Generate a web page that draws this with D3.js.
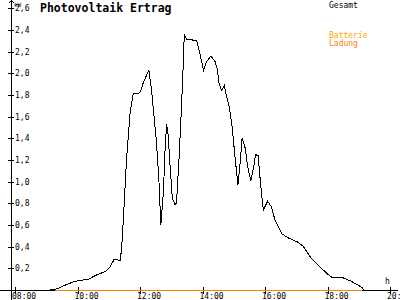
<!DOCTYPE html>
<html>
<head>
<meta charset="utf-8">
<script src="https://cdn.jsdelivr.net/npm/d3@7"></script>
<style>
  html, body { margin: 0; padding: 0; background: #fff; }
  svg { display: block; }
  text { font-family: "DejaVu Sans Mono", monospace; }
</style>
</head>
<body>
<div id="chart"></div>
<script>
// Gesamt (kW) over the day
const times = ["09:07","09:20","09:39","09:55","10:21","10:37","10:53","11:02","11:10","11:15",
  "11:22","11:25","11:29","11:34","11:41","11:47","11:55","12:01","12:06","12:17",
  "12:22","12:31","12:36","12:40","12:45","12:48","12:51","12:54","12:58","13:02",
  "13:07","13:10","13:15","13:19","13:23","13:25","13:30","13:39","13:49","13:55",
  "14:02","14:08","14:16","14:24","14:28","14:32","14:37","14:42","14:46","14:51",
  "14:57","15:02","15:08","15:12","15:16","15:22","15:27","15:33","15:38","15:42",
  "15:47","15:50","15:55","15:57","16:05","16:12","16:19","16:32","16:45","17:04",
  "17:14","17:26","17:46","18:02","18:08","18:26","18:46","19:06","19:09"];
const gesamt = [0,0.01,0.05,0.08,0.10,0.14,0.17,0.21,0.28,0.28,
  0.27,0.40,0.74,1.20,1.64,1.81,1.81,1.83,1.91,2.03,
  1.85,1.40,1.05,0.60,0.91,1.28,1.53,1.43,1.13,0.85,
  0.79,0.80,1.22,1.62,2.08,2.36,2.31,2.31,2.30,2.18,
  2.03,2.11,2.16,2.11,2.05,1.90,1.84,1.89,1.79,1.70,
  1.50,1.25,0.97,1.16,1.40,1.31,1.13,1.01,1.13,1.25,
  1.24,1.06,0.81,0.74,0.82,0.77,0.65,0.52,0.48,0.44,
  0.40,0.31,0.21,0.14,0.12,0.12,0.08,0.025,0];

// Batterie Ladung
const ladungTimes = ["09:17","19:07"];
const ladung = [0, 0];

const xTicks = ["08:00","10:00","12:00","14:00","16:00","18:00","20:00"];
const yTicks = [0.2,0.4,0.6,0.8,1.0,1.2,1.4,1.6,1.8,2.0,2.2,2.4,2.6];

const width = 400, height = 300;
const toHours = (s) => { const [h, m] = s.split(":").map(Number); return h + m / 60; };

const x = d3.scaleLinear().domain([8, 20]).range([15, 390]);
const y = d3.scaleLinear().domain([0, 2.6]).range([290, 8.4]);

const svg = d3.select("#chart").append("svg")
  .attr("width", width).attr("height", height);

// axes
const axes = svg.append("g").attr("stroke", "#000").attr("shape-rendering", "crispEdges");
axes.append("line").attr("x1", 11.5).attr("x2", 11.5).attr("y1", 0).attr("y2", 300);
axes.append("line").attr("x1", 0).attr("x2", 398).attr("y1", 290.5).attr("y2", 290.5);
axes.append("path").attr("fill", "none").attr("d", "M8.5,3.5L11.5,0.5L14.5,3.5");

// y ticks
const yAxis = svg.append("g");
yAxis.selectAll("line").data(yTicks).enter().append("line")
  .attr("x1", 8).attr("x2", 14)
  .attr("y1", (d) => Math.round(y(d)) + 0.5).attr("y2", (d) => Math.round(y(d)) + 0.5)
  .attr("stroke", "#000").attr("shape-rendering", "crispEdges");
yAxis.selectAll("text").data(yTicks).enter().append("text")
  .attr("x", 15).attr("y", (d) => y(d) + 3)
  .attr("font-size", "8px")
  .text((d) => d3.format(".1f")(d).replace(".", ","));

svg.append("text").attr("x", 14).attr("y", 7).attr("font-size", "6px").text("kW");

// x ticks
const xAxis = svg.append("g");
xAxis.selectAll("line").data(xTicks).enter().append("line")
  .attr("x1", (d) => Math.round(x(toHours(d))) + 0.5).attr("x2", (d) => Math.round(x(toHours(d))) + 0.5)
  .attr("y1", 287).attr("y2", 294)
  .attr("stroke", "#000").attr("shape-rendering", "crispEdges");
xAxis.selectAll("text").data(xTicks).enter().append("text")
  .attr("x", (d) => x(toHours(d)) - 3).attr("y", 299)
  .attr("font-size", "8px")
  .text((d) => d);

svg.append("text").attr("x", 385).attr("y", 284).attr("font-size", "8px").text("h");

// lines
const line = d3.line().x((d) => x(d[0])).y((d) => y(d[1]));

svg.append("path")
  .datum(times.map((t, i) => [toHours(t), gesamt[i]]))
  .attr("d", line)
  .attr("fill", "none").attr("stroke", "#000").attr("stroke-width", 1)
  .attr("shape-rendering", "crispEdges");

svg.append("path")
  .datum(ladungTimes.map((t, i) => [toHours(t), ladung[i]]))
  .attr("d", line)
  .attr("transform", "translate(0,0.5)")
  .attr("fill", "none").attr("stroke", "#ff8000").attr("stroke-width", 1)
  .attr("shape-rendering", "crispEdges");

// title and legend
svg.append("text").attr("x", 40).attr("y", 12)
  .attr("font-size", "11.5px").attr("font-weight", "bold")
  .text("Photovoltaik Ertrag");
svg.append("text").attr("x", 329).attr("y", 8).attr("font-size", "8px").text("Gesamt");
svg.append("text").attr("x", 329).attr("y", 38).attr("font-size", "8px").attr("fill", "#ffa500").text("Batterie");
svg.append("text").attr("x", 329).attr("y", 46).attr("font-size", "8px").attr("fill", "#ff8000").text("Ladung");
</script>
</body>
</html>
